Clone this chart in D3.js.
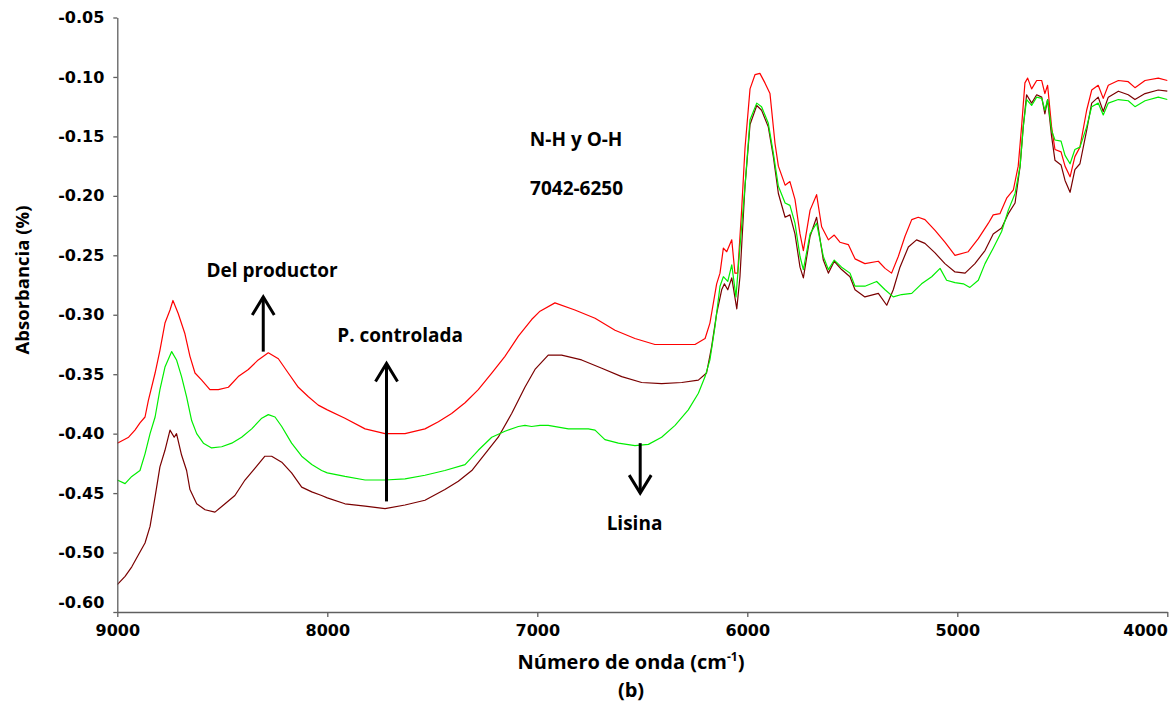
<!DOCTYPE html>
<html>
<head>
<meta charset="utf-8">
<script src="https://cdn.jsdelivr.net/npm/d3@7"></script>
<style>
  html, body { margin: 0; padding: 0; background: #fff; }
  svg { display: block; }
  .tick text { font-family: "DejaVu Sans", Verdana, sans-serif; font-weight: bold; font-size: 16px; fill: #000; }
  .lbl { font-family: "Open Sans", Lato, sans-serif; font-weight: bold; fill: #000; }
</style>
</head>
<body>
<svg id="chart" width="1175" height="703"></svg>
<script>
// NIR spectra, absorbance vs wavenumber: [cm^-1, absorbance]
const delProductor = [
  [9000,-0.408],[8946,-0.403],[8916,-0.397],[8892,-0.391],[8868,-0.386],[8852,-0.372],[8820,-0.349],
  [8797,-0.330],[8773,-0.307],[8749,-0.296],[8735,-0.288],[8710,-0.299],[8678,-0.316],[8654,-0.335],
  [8630,-0.349],[8598,-0.355],[8559,-0.363],[8519,-0.363],[8471,-0.361],[8424,-0.352],[8376,-0.346],
  [8329,-0.338],[8281,-0.332],[8233,-0.337],[8186,-0.349],[8138,-0.361],[8090,-0.369],[8043,-0.376],
  [8000,-0.380],[7916,-0.387],[7820,-0.396],[7725,-0.400],[7630,-0.400],[7535,-0.396],[7471,-0.390],
  [7408,-0.383],[7344,-0.374],[7281,-0.363],[7217,-0.349],[7154,-0.335],[7090,-0.318],[7027,-0.304],
  [6987,-0.297],[6916,-0.290],[6821,-0.296],[6725,-0.303],[6630,-0.313],[6535,-0.320],[6440,-0.325],
  [6344,-0.325],[6249,-0.325],[6201,-0.320],[6178,-0.307],[6146,-0.274],[6130,-0.265],[6114,-0.244],
  [6098,-0.247],[6074,-0.237],[6059,-0.265],[6046,-0.265],[6027,-0.212],[6011,-0.160],[5987,-0.110],
  [5963,-0.098],[5940,-0.097],[5916,-0.105],[5892,-0.114],[5868,-0.156],[5852,-0.175],[5820,-0.191],
  [5797,-0.188],[5773,-0.203],[5749,-0.232],[5733,-0.246],[5701,-0.212],[5670,-0.199],[5646,-0.226],
  [5614,-0.237],[5586,-0.233],[5559,-0.239],[5519,-0.241],[5487,-0.253],[5440,-0.257],[5376,-0.255],
  [5344,-0.261],[5313,-0.265],[5281,-0.251],[5249,-0.234],[5217,-0.220],[5186,-0.218],[5154,-0.220],
  [5106,-0.229],[5059,-0.239],[5011,-0.250],[4948,-0.247],[4900,-0.236],[4852,-0.223],[4829,-0.216],
  [4797,-0.215],[4765,-0.202],[4733,-0.195],[4710,-0.175],[4694,-0.142],[4678,-0.105],[4665,-0.101],
  [4646,-0.110],[4622,-0.103],[4598,-0.103],[4583,-0.114],[4570,-0.107],[4551,-0.142],[4535,-0.161],
  [4506,-0.163],[4487,-0.175],[4463,-0.184],[4440,-0.167],[4416,-0.159],[4384,-0.128],[4360,-0.111],
  [4329,-0.107],[4305,-0.118],[4281,-0.107],[4233,-0.103],[4186,-0.104],[4154,-0.109],[4106,-0.103],
  [4043,-0.101],[4000,-0.103]
];

const pControlada = [
  [9000,-0.527],[8963,-0.520],[8931,-0.512],[8900,-0.502],[8868,-0.492],[8844,-0.478],[8820,-0.453],
  [8797,-0.428],[8773,-0.414],[8749,-0.397],[8729,-0.403],[8718,-0.400],[8694,-0.418],[8670,-0.431],
  [8654,-0.447],[8622,-0.459],[8582,-0.464],[8535,-0.466],[8487,-0.459],[8440,-0.452],[8392,-0.439],
  [8344,-0.429],[8297,-0.419],[8265,-0.419],[8217,-0.424],[8170,-0.433],[8122,-0.445],[8074,-0.449],
  [8027,-0.452],[8000,-0.454],[7916,-0.459],[7820,-0.461],[7725,-0.463],[7630,-0.460],[7535,-0.456],
  [7440,-0.447],[7376,-0.440],[7312,-0.431],[7249,-0.417],[7186,-0.403],[7122,-0.383],[7059,-0.361],
  [7011,-0.346],[6948,-0.334],[6884,-0.334],[6789,-0.338],[6693,-0.345],[6598,-0.352],[6503,-0.357],
  [6408,-0.358],[6312,-0.357],[6233,-0.355],[6194,-0.349],[6170,-0.327],[6146,-0.299],[6122,-0.279],
  [6109,-0.274],[6093,-0.279],[6074,-0.269],[6050,-0.295],[6035,-0.268],[6011,-0.192],[5987,-0.140],
  [5955,-0.124],[5932,-0.128],[5900,-0.142],[5876,-0.167],[5852,-0.198],[5820,-0.218],[5797,-0.216],
  [5773,-0.232],[5749,-0.260],[5733,-0.269],[5701,-0.234],[5670,-0.218],[5638,-0.254],[5614,-0.265],
  [5586,-0.255],[5551,-0.262],[5511,-0.268],[5487,-0.279],[5440,-0.285],[5376,-0.282],[5336,-0.292],
  [5305,-0.279],[5273,-0.260],[5233,-0.243],[5194,-0.237],[5154,-0.240],[5106,-0.248],[5059,-0.257],
  [5011,-0.264],[4963,-0.265],[4916,-0.257],[4868,-0.246],[4829,-0.232],[4789,-0.227],[4757,-0.215],
  [4725,-0.206],[4701,-0.175],[4686,-0.142],[4670,-0.115],[4646,-0.122],[4622,-0.115],[4598,-0.117],
  [4583,-0.131],[4570,-0.119],[4551,-0.150],[4535,-0.170],[4506,-0.174],[4487,-0.187],[4463,-0.197],
  [4440,-0.178],[4416,-0.173],[4384,-0.145],[4360,-0.122],[4329,-0.117],[4305,-0.129],[4281,-0.117],
  [4233,-0.112],[4186,-0.115],[4154,-0.119],[4106,-0.114],[4043,-0.111],[4000,-0.112]
];

const lisina = [
  [9000,-0.439],[8963,-0.442],[8931,-0.436],[8892,-0.431],[8868,-0.417],[8844,-0.400],[8820,-0.386],
  [8797,-0.363],[8773,-0.344],[8741,-0.331],[8718,-0.338],[8694,-0.352],[8670,-0.369],[8646,-0.389],
  [8622,-0.400],[8590,-0.408],[8551,-0.412],[8503,-0.411],[8455,-0.408],[8408,-0.403],[8360,-0.396],
  [8312,-0.387],[8281,-0.384],[8249,-0.386],[8217,-0.394],[8170,-0.408],[8122,-0.419],[8074,-0.426],
  [8027,-0.431],[8000,-0.433],[7916,-0.436],[7820,-0.439],[7725,-0.439],[7630,-0.438],[7535,-0.435],
  [7440,-0.431],[7344,-0.426],[7281,-0.414],[7217,-0.403],[7154,-0.398],[7090,-0.394],[7059,-0.393],
  [7027,-0.394],[6987,-0.393],[6948,-0.393],[6852,-0.396],[6757,-0.396],[6725,-0.397],[6678,-0.405],
  [6614,-0.408],[6535,-0.410],[6471,-0.409],[6408,-0.403],[6344,-0.393],[6281,-0.380],[6233,-0.366],
  [6201,-0.352],[6178,-0.338],[6154,-0.310],[6130,-0.276],[6114,-0.268],[6093,-0.272],[6074,-0.258],
  [6054,-0.285],[6035,-0.243],[6011,-0.192],[5987,-0.136],[5955,-0.122],[5932,-0.125],[5900,-0.139],
  [5876,-0.164],[5852,-0.192],[5820,-0.206],[5797,-0.208],[5773,-0.223],[5749,-0.251],[5733,-0.262],
  [5701,-0.232],[5670,-0.223],[5638,-0.251],[5614,-0.262],[5586,-0.254],[5551,-0.260],[5511,-0.265],
  [5487,-0.276],[5440,-0.276],[5384,-0.272],[5344,-0.279],[5305,-0.285],[5265,-0.283],[5217,-0.282],
  [5170,-0.274],[5122,-0.268],[5082,-0.261],[5051,-0.271],[5011,-0.273],[4971,-0.274],[4940,-0.277],
  [4900,-0.271],[4868,-0.257],[4829,-0.244],[4789,-0.230],[4757,-0.212],[4725,-0.198],[4701,-0.175],
  [4686,-0.142],[4670,-0.119],[4646,-0.124],[4622,-0.117],[4598,-0.118],[4583,-0.128],[4570,-0.119],
  [4551,-0.145],[4535,-0.153],[4506,-0.154],[4487,-0.166],[4463,-0.173],[4440,-0.161],[4416,-0.159],
  [4384,-0.142],[4360,-0.125],[4329,-0.122],[4305,-0.132],[4281,-0.122],[4233,-0.119],[4186,-0.120],
  [4154,-0.125],[4106,-0.120],[4043,-0.117],[4000,-0.119]
];

const xTicks = [9000, 8000, 7000, 6000, 5000, 4000];
const yTicks = [-0.05, -0.10, -0.15, -0.20, -0.25, -0.30, -0.35, -0.40, -0.45, -0.50, -0.55];
const yTickLabels = ["-0.05", "-0.10", "-0.15", "-0.20", "-0.25", "-0.30", "-0.35", "-0.40", "-0.45", "-0.50", "-0.60"];

const series = [
  { name: "Del productor", color: "#ff0000", data: delProductor },
  { name: "P. controlada", color: "#7a0000", data: pControlada },
  { name: "Lisina", color: "#00ee00", data: lisina }
];

// Arrows: x in cm^-1, from/to absorbance
const arrows = [
  { wn: 8305, from: -0.331, to: -0.285 },
  { wn: 7718, from: -0.457, to: -0.341 },
  { wn: 6510, from: -0.408, to: -0.450 }
];

const notes = [
  { text: "Del productor", wn: 8263, v: -0.268 },
  { text: "P. controlada", wn: 7653, v: -0.323 },
  { text: "Lisina", wn: 6537, v: -0.481 },
  { text: "N-H y O-H", wn: 6815, v: -0.158 },
  { text: "7042-6250", wn: 6813, v: -0.199 }
];

const svg = d3.select("#chart");
const margin = { left: 117.3, right: 7.7, top: 17.5, bottom: 91 };
const W = 1175, H = 703;

const x = d3.scaleLinear().domain([9000, 4000]).range([margin.left, W - margin.right]);
const y = d3.scaleLinear().domain([-0.05, -0.55]).range([margin.top, H - margin.bottom]);

// Curves
const line = d3.line().x(d => x(d[0])).y(d => y(d[1]));
svg.append("g").selectAll("path")
  .data(series)
  .join("path")
  .attr("fill", "none")
  .attr("stroke", d => d.color)
  .attr("stroke-width", 1.2)
  .attr("stroke-linejoin", "round")
  .attr("d", d => line(d.data));

// Axes
const axisColor = "#5f5f5f";
const xAxis = svg.append("g")
  .attr("transform", `translate(0,${H - margin.bottom})`)
  .call(d3.axisBottom(x).tickValues(xTicks).tickFormat(d3.format("d")).tickSizeInner(5).tickSizeOuter(0).tickPadding(8));
const yAxis = svg.append("g")
  .attr("transform", `translate(${margin.left},0)`)
  .call(d3.axisLeft(y).tickValues(yTicks).tickFormat((d, i) => yTickLabels[i]).tickSizeInner(4).tickSizeOuter(0).tickPadding(9));

[xAxis, yAxis].forEach(g => {
  g.select(".domain").attr("stroke", axisColor).attr("stroke-width", 1.3);
  g.selectAll(".tick line").attr("stroke", axisColor).attr("stroke-width", 1.3);
});
yAxis.selectAll(".tick text").attr("dy", (d, i) => i === yTicks.length - 1 ? "-0.3em" : "0.32em");
// last wavenumber label sits flush with the axis end
xAxis.selectAll(".tick text").filter(d => d === xTicks[xTicks.length - 1]).attr("text-anchor", "end");

// Axis titles
const xt = svg.append("text").attr("class", "lbl")
  .attr("x", 631).attr("y", 669).attr("text-anchor", "middle").style("font-size", "20px");
xt.append("tspan").text("Número de onda (cm");
xt.append("tspan").attr("dy", -8).style("font-size", "12px").text("-1");
xt.append("tspan").attr("dy", 8).text(")");
svg.append("text").attr("class", "lbl")
  .attr("x", 631).attr("y", 697).attr("text-anchor", "middle").style("font-size", "20px").text("(b)");

svg.append("text").attr("class", "lbl")
  .attr("transform", "translate(29,280) rotate(-90)")
  .attr("text-anchor", "middle").style("font-size", "18.5px").text("Absorbancia (%)");

// Annotations
svg.append("g").selectAll("text")
  .data(notes)
  .join("text")
  .attr("class", "lbl")
  .attr("x", d => x(d.wn))
  .attr("y", d => y(d.v))
  .attr("text-anchor", "middle")
  .style("font-size", "19px")
  .text(d => d.text);

const ag = svg.append("g").attr("stroke", "#000").attr("stroke-width", 3).attr("fill", "none");
arrows.forEach(a => {
  const ax = x(a.wn), y0 = y(a.from), y1 = y(a.to);
  const dir = y1 < y0 ? 1 : -1;
  ag.append("line").attr("x1", ax).attr("x2", ax).attr("y1", y0).attr("y2", y1);
  ag.append("path")
    .attr("stroke-linejoin", "miter")
    .attr("d", `M${ax - 11},${y1 + dir * 18}L${ax},${y1}L${ax + 11},${y1 + dir * 18}`);
});
</script>
</body>
</html>
